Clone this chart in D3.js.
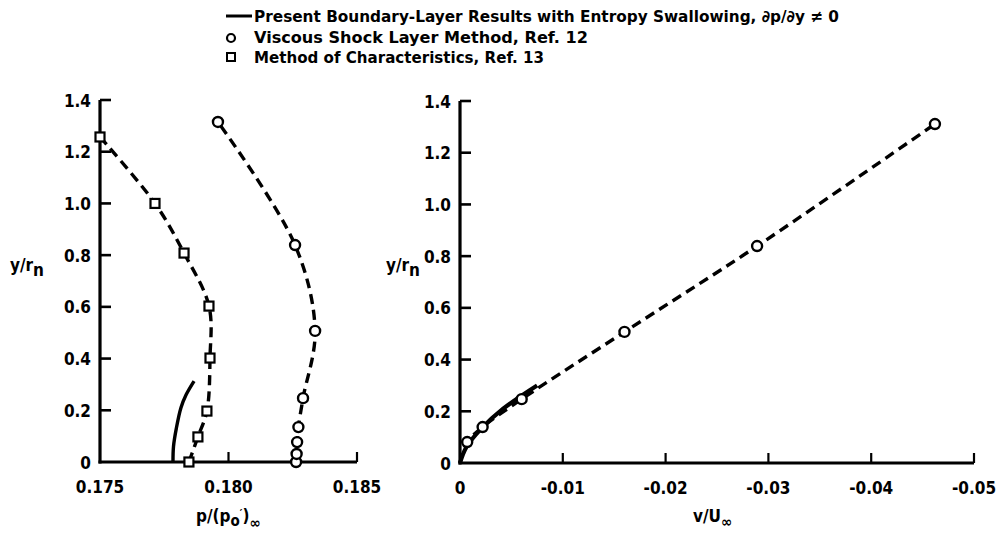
<!DOCTYPE html>
<html><head><meta charset="utf-8">
<script src="https://cdn.jsdelivr.net/npm/d3@7"></script>
<style>
body{margin:0;background:#fff;}
text{font-family:"DejaVu Sans Condensed","DejaVu Sans",sans-serif;font-weight:bold;fill:#000;}
</style></head>
<body><svg id="c" width="1003" height="542"></svg>
<script>
// ---- data ----
const pTicks = [0.175, 0.180, 0.185];
const pTickLabels = ["0.175", "0.180", "0.185"];
const yTicks = [0, 0.2, 0.4, 0.6, 0.8, 1.0, 1.2, 1.4];
const yTickLabels = ["0", "0.2", "0.4", "0.6", "0.8", "1.0", "1.2", "1.4"];
const vTicks = [0, -0.01, -0.02, -0.03, -0.04, -0.05];
const vTickLabels = ["0", "-0.01", "-0.02", "-0.03", "-0.04", "-0.05"];

// left panel: p/(p0')inf vs y/rn
const mocP = [0.17846, 0.17881, 0.17916, 0.17928, 0.17924, 0.17827, 0.17714, 0.17500];
const mocY = [0.0, 0.097, 0.197, 0.402, 0.603, 0.808, 1.0, 1.257];
const vslP = [0.18263, 0.18265, 0.18267, 0.18272, 0.18290, 0.18337, 0.18259, 0.17959];
const vslY = [0.0, 0.031, 0.077, 0.135, 0.247, 0.507, 0.839, 1.315];
const blP = [0.17784, 0.17786, 0.17797, 0.17815, 0.17835, 0.17866];
const blY = [0.0, 0.06, 0.13, 0.21, 0.26, 0.313];

// right panel: v/Uinf vs y/rn
const vslV = [-0.0007, -0.0022, -0.0060, -0.0160, -0.0289, -0.0462];
const vslVY = [0.081, 0.139, 0.247, 0.507, 0.839, 1.311];
const blV = [0.0, -0.0006, -0.0020, -0.0042, -0.0075];
const blVY = [0.0, 0.06, 0.13, 0.21, 0.30];

const legendLabels = [
  "Present Boundary-Layer Results with Entropy Swallowing, \u2202p/\u2202y \u2260 0",
  "Viscous Shock Layer Method, Ref. 12",
  "Method of Characteristics, Ref. 13"
];

// ---- drawing ----
const svg = d3.select("#c");
const xL = d3.scaleLinear().domain([0.175, 0.185]).range([100, 357]);
const yL = d3.scaleLinear().domain([0, 1.4]).range([462, 100]);
const xR = d3.scaleLinear().domain([0, -0.05]).range([460, 974]);
const yR = d3.scaleLinear().domain([0, 1.4]).range([463, 101]);

const AXW = 3.2, DASH = "10,6", LW = 3.4;

function axes(x, y, xt, xtl, yt, ytl, xEnd) {
  const g = svg.append("g");
  const x0 = x.range()[0], y0 = y.range()[0];
  g.append("line").attr("x1", x0).attr("x2", x0).attr("y1", y0 + 1.5).attr("y2", y.range()[1])
    .attr("stroke", "#000").attr("stroke-width", AXW);
  g.append("line").attr("x1", x0 - 1.5).attr("x2", xEnd).attr("y1", y0).attr("y2", y0)
    .attr("stroke", "#000").attr("stroke-width", AXW);
  yt.forEach((v, i) => {
    if (v !== 0) g.append("line").attr("x1", x0).attr("x2", x0 + 11).attr("y1", y(v)).attr("y2", y(v))
      .attr("stroke", "#000").attr("stroke-width", 2.6);
    g.append("text").attr("x", x0 - 9).attr("y", y(v) + 6.5).attr("text-anchor", "end")
      .attr("font-size", 17).text(ytl[i]);
  });
  xt.forEach((v, i) => {
    if (i > 0) g.append("line").attr("x1", x(v)).attr("x2", x(v)).attr("y1", y0).attr("y2", y0 - 10)
      .attr("stroke", "#000").attr("stroke-width", 2.2);
    g.append("text").attr("x", x(v)).attr("y", y0 + 31).attr("text-anchor", "middle")
      .attr("font-size", 17).text(xtl[i]);
  });
}
axes(xL, yL, pTicks, pTickLabels, yTicks, yTickLabels, 357);
axes(xR, yR, vTicks, vTickLabels, yTicks, yTickLabels, 974);

// y labels
function ylab(x, y) {
  const t = svg.append("text").attr("x", x).attr("y", y).attr("font-size", 17);
  t.append("tspan").text("y/r");
  t.append("tspan").attr("dy", 5).attr("font-size", 17).text("n");
}
ylab(10, 271);
ylab(386, 271);

// x labels
const xl1 = svg.append("text").attr("x", 196).attr("y", 522).attr("font-size", 17);
xl1.append("tspan").text("p/(p");
xl1.append("tspan").attr("dy", 4).attr("font-size", 15).text("o");
xl1.append("tspan").attr("dy", -9).attr("font-size", 11).text("\u2032");
xl1.append("tspan").attr("dy", 5).text(")");
xl1.append("tspan").attr("dy", 6).attr("font-size", 15).text("\u221E");

const xl2 = svg.append("text").attr("x", 693).attr("y", 522).attr("font-size", 17);
xl2.append("tspan").text("v/U");
xl2.append("tspan").attr("dy", 5).attr("font-size", 15).text("\u221E");

// curves
const lineL = d3.line().x(d => xL(d[0])).y(d => yL(d[1])).curve(d3.curveCatmullRom.alpha(0.5));
const lineR = d3.line().x(d => xR(d[0])).y(d => yR(d[1])).curve(d3.curveCatmullRom.alpha(0.5));

const moc = mocP.map((p, i) => [p, mocY[i]]);
const vsl = vslP.map((p, i) => [p, vslY[i]]);
const bl = blP.map((p, i) => [p, blY[i]]);
const vslR = [[0, 0]].concat(vslV.map((v, i) => [v, vslVY[i]]));
const blR = blV.map((v, i) => [v, blVY[i]]);

svg.append("path").attr("d", lineL(moc)).attr("fill", "none").attr("stroke", "#000")
  .attr("stroke-width", LW).attr("stroke-dasharray", DASH);
svg.append("path").attr("d", lineL(vsl)).attr("fill", "none").attr("stroke", "#000")
  .attr("stroke-width", LW).attr("stroke-dasharray", DASH);
svg.append("path").attr("d", lineL(bl)).attr("fill", "none").attr("stroke", "#000")
  .attr("stroke-width", 3.4);
svg.append("path").attr("d", lineR(vslR)).attr("fill", "none").attr("stroke", "#000")
  .attr("stroke-width", LW).attr("stroke-dasharray", DASH);
svg.append("path").attr("d", lineR(blR)).attr("fill", "none").attr("stroke", "#000")
  .attr("stroke-width", 4.2);

// markers
function circles(data, x, y) {
  svg.append("g").selectAll("circle").data(data).join("circle")
    .attr("cx", d => x(d[0])).attr("cy", d => y(d[1])).attr("r", 5)
    .attr("fill", "#fff").attr("stroke", "#000").attr("stroke-width", 2.4);
}
function squares(data, x, y) {
  svg.append("g").selectAll("rect").data(data).join("rect")
    .attr("x", d => x(d[0]) - 4.5).attr("y", d => y(d[1]) - 4.5).attr("width", 9).attr("height", 9)
    .attr("fill", "#fff").attr("stroke", "#000").attr("stroke-width", 2.2);
}
squares(moc, xL, yL);
circles(vsl, xL, yL);
circles(vslR.slice(1), xR, yR);

// legend
svg.append("line").attr("x1", 226).attr("x2", 252).attr("y1", 16).attr("y2", 16)
  .attr("stroke", "#000").attr("stroke-width", 3);
svg.append("circle").attr("cx", 231).attr("cy", 38).attr("r", 4)
  .attr("fill", "#fff").attr("stroke", "#000").attr("stroke-width", 2.2);
svg.append("rect").attr("x", 227).attr("y", 53).attr("width", 8).attr("height", 8)
  .attr("fill", "#fff").attr("stroke", "#000").attr("stroke-width", 2);
const legLen = [585, 334, 290];
legendLabels.forEach((t, i) => {
  svg.append("text").attr("x", 254).attr("y", 22 + i * 20.5).attr("font-size", 16.5)
    .attr("textLength", legLen[i]).attr("lengthAdjust", "spacingAndGlyphs").text(t);
});
</script></body></html>
